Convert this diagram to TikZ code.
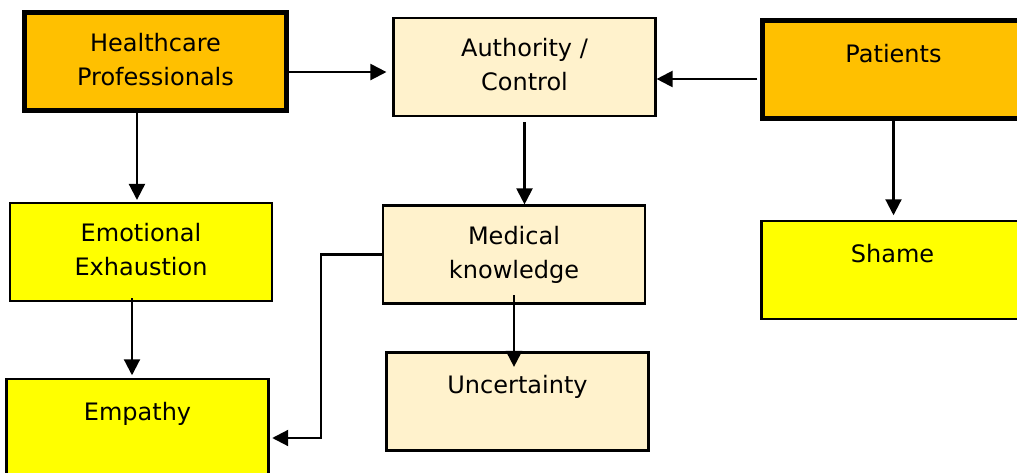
\documentclass[tikz,border=0pt]{standalone}
\usepackage{fontspec}
\setmainfont{DejaVu Sans}
\usetikzlibrary{arrows.meta,calc}
\definecolor{boxorange}{HTML}{FFC000}
\definecolor{boxcream}{HTML}{FFF2CC}
\definecolor{boxyellow}{HTML}{FFFF00}
\begin{document}
\begin{tikzpicture}[x=0.75pt, y=-0.75pt, line join=miter,
		font=\fontsize{18}{25.5}\selectfont,
		>={Triangle[length=12pt,width=12pt]},
		box/.style={draw=black, line width=1.6pt, rectangle, align=center,
			minimum width=196.5pt, minimum height=73.5pt, inner sep=0pt},
		group/.style={box, fill=boxorange, line width=3.75pt},
		theme/.style={box, fill=boxcream},
		feeling/.style={box, fill=boxyellow},
		conn/.style={->, line width=1.6pt}]
		\def\W{1017} \def\H{473}
		\useasboundingbox (0,0) rectangle (\W,\H);
		\clip (0,0) rectangle (\W,\H);
		\fill[white] (0,0) rectangle (\W,\H);
		% boxes
		\node[group]   (hp)    at (155.5,61.5) {Healthcare\\Professionals\vphantom{y}};
		\node[theme]   (auth)  at (524.5,67)   {Authority /\\Control\vphantom{y}};
		\node[group]   (pat)   at (893.5,70)   {Patients\\~};
		\node[feeling] (emo)   at (141,252)    {Emotional\\Exhaustion\vphantom{y}};
		\node[theme]   (med)   at (514,254.5)  {Medical\\knowledge};
		\node[feeling] (shame) at (892.5,270)  {Shame\\~};
		\node[theme]   (unc)   at (517.5,401.5){Uncertainty\\~};
		\node[feeling] (emp)   at (137.5,428)  {Empathy\\~};
		% arrows
		\draw[conn, shorten >=4.5pt] ([yshift=-7.9pt]hp.east) -- ([yshift=-7.9pt]hp.east -| auth.west);
		\draw[conn, shorten <=2pt] ([yshift=-6.75pt]pat.west) -- ([yshift=-6.75pt]pat.west -| auth.east);
		\draw[conn, shorten >=1.5pt] ([xshift=-13.9pt]hp.south) -- ([xshift=-13.9pt]hp.south |- emo.north);
		\draw[conn, shorten <=3.75pt] (auth.south) -- (auth.south |- med.north);
		\draw[conn] ([yshift=7.1pt]med.south) -- ([yshift=-11.6pt]med.south |- unc.north);
		\draw[conn, shorten >=2pt] ([xshift=-6.75pt,yshift=3pt]emo.south) -- ([xshift=-6.75pt]emo.south |- emp.north);
		\draw[conn, shorten >=3.5pt] (pat.south) -- (pat.south |- shame.north);
		\draw[conn, shorten >=2pt] (med.west) -- ++(-61,0) |- ([yshift=-7.5pt]emp.east);
	\end{tikzpicture}
\end{document}
